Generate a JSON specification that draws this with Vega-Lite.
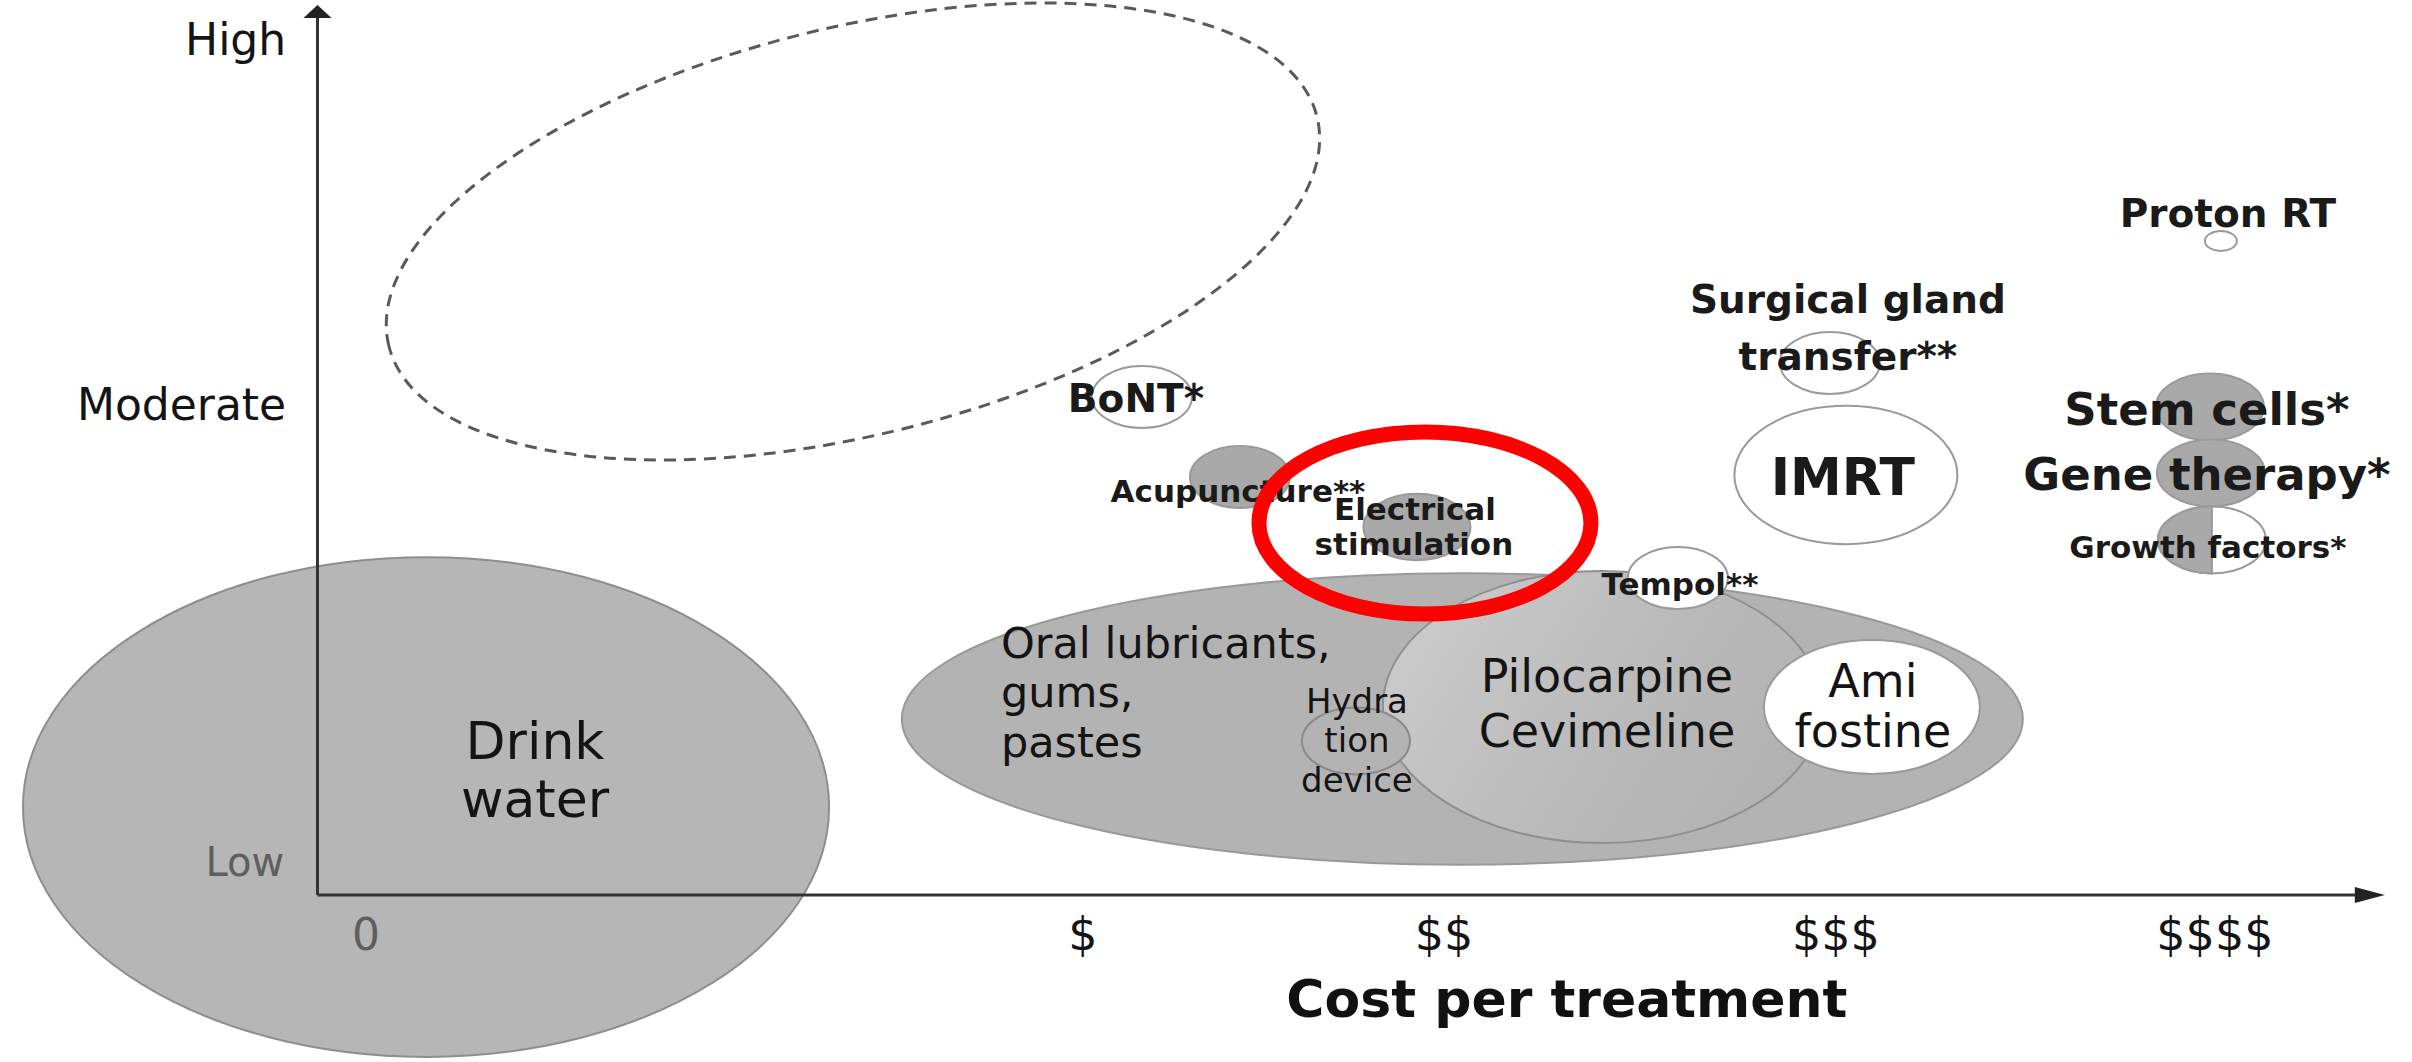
{
  "$schema": "https://vega.github.io/schema/vega-lite/v6.json",
  "width": 2412,
  "height": 1062,
  "autosize": {"type": "none"},
  "padding": 0,
  "background": "white",
  "config": {"view": {"stroke": null}},
  "datasets": {
    "ideal": [{"name": "ideal zone", "c": 0.4105, "e": 7.4134, "w": 2.5238}],
    "water": [{"name": "Drink water", "c": -0.7167, "e": 0.983, "w": 2.128}],
    "lubricants": [{"name": "Oral lubricants, gums, pastes", "c": 2.0193, "e": 1.9665, "w": 2.9593}],
    "sialogogues": [{"name": "Pilocarpine Cevimeline", "c": 2.389, "e": 2.1006, "w": 1.1589}],
    "hydration": [{"name": "Hydration device", "c": 1.7384, "e": 1.7207, "w": 0.2851}],
    "open": [
      {"name": "Amifostine", "c": 3.1006, "e": 2.1006, "w": 0.5702},
      {"name": "Tempol", "c": 2.5884, "e": 3.5419, "w": 0.264},
      {"name": "BoNT", "c": 1.1734, "e": 5.5642, "w": 0.264},
      {"name": "Surgical gland transfer", "c": 2.9897, "e": 5.9441, "w": 0.264},
      {"name": "IMRT", "c": 3.0319, "e": 4.6927, "w": 0.5887},
      {"name": "Proton RT", "c": 4.0219, "e": 7.3073, "w": 0.0845},
      {"name": "Growth factors", "c": 3.9982, "e": 3.9665, "w": 0.2851}
    ],
    "grey": [
      {"name": "Acupuncture", "c": 1.4322, "e": 4.6704, "w": 0.264},
      {"name": "Electrical stimulation", "c": 1.8994, "e": 4.1117, "w": 0.2825},
      {"name": "Stem cells", "c": 3.9929, "e": 5.4525, "w": 0.2851},
      {"name": "Gene therapy", "c": 3.9955, "e": 4.7151, "w": 0.2851}
    ],
    "half": [{"name": "Growth factors", "c": 3.9982, "e": 3.9665, "w": 0.2851}],
    "highlight": [{"name": "Electrical stimulation", "c": 1.9206, "e": 4.1564, "w": 0.8765}],
    "axes": [
      {"c": -1.0032, "e": 0, "c2": -1.0032, "e2": 9.7989},
      {"c": -1.0032, "e": 0, "c2": 4.3783, "e2": 0}
    ],
    "arrowUp": [{"c": -1.0032, "e": 9.8715}],
    "arrowRight": [{"c": 4.4152, "e": 0}],
    "levels": [
      {"label": "High", "c": -1.0858, "e": 9.3855},
      {"label": "Moderate", "c": -1.0858, "e": 5.3073}
    ],
    "low": [{"label": "Low", "c": -1.0911, "e": 0.2123}],
    "zero": [{"label": "0", "c": -0.8751, "e": -0.6145}],
    "costs": [
      {"label": "$", "c": 1.0177, "e": -0.6145},
      {"label": "$$", "c": 1.9707, "e": -0.6145},
      {"label": "$$$", "c": 3.0055, "e": -0.6145},
      {"label": "$$$$", "c": 4.0061, "e": -0.6145}
    ],
    "xtitle": [{"label": "Cost per treatment", "c": 2.2954, "e": -1.3631}],
    "waterLabel": [
      {"label": "Drink", "c": -0.429, "e": 1.5196},
      {"label": "water", "c": -0.429, "e": 0.8715}
    ],
    "lubLabel": [
      {"label": "Oral lubricants,", "c": 0.8012, "e": 2.648},
      {"label": "gums,", "c": 0.8012, "e": 2.1006},
      {"label": "pastes", "c": 0.8012, "e": 1.5419}
    ],
    "bigLabels": [
      {"label": "Pilocarpine", "c": 2.401, "e": 2.2682},
      {"label": "Cevimeline", "c": 2.401, "e": 1.6536},
      {"label": "Ami", "c": 3.1032, "e": 2.2123},
      {"label": "fostine", "c": 3.1032, "e": 1.6536}
    ],
    "hydLabels": [
      {"label": "Hydra", "c": 1.741, "e": 2.0335},
      {"label": "tion", "c": 1.741, "e": 1.5978},
      {"label": "device", "c": 1.741, "e": 1.1508}
    ],
    "smallLabels": [
      {"label": "Tempol**", "c": 2.5937, "e": 3.352},
      {"label": "Acupuncture**", "c": 1.4269, "e": 4.3911},
      {"label": "Electrical", "c": 1.8941, "e": 4.1899},
      {"label": "stimulation", "c": 1.8915, "e": 3.7989},
      {"label": "Growth factors*", "c": 3.9875, "e": 3.7654}
    ],
    "midLabels": [
      {"label": "BoNT*", "c": 1.1576, "e": 5.3966},
      {"label": "Surgical gland", "c": 3.0372, "e": 6.5028},
      {"label": "transfer**", "c": 3.0372, "e": 5.8659},
      {"label": "Proton RT", "c": 4.0404, "e": 7.4637}
    ],
    "largeLabels": [
      {"label": "Stem cells*", "c": 3.985, "e": 5.2514},
      {"label": "Gene therapy*", "c": 3.985, "e": 4.5251}
    ],
    "imrtLabel": [{"label": "IMRT", "c": 3.024, "e": 4.4693}]
  },
  "encoding": {
    "x": {"field": "c", "type": "quantitative", "scale": {"domain": [-1.8414, 4.5265], "nice": false, "zero": false}, "axis": null},
    "y": {"field": "e", "type": "quantitative", "scale": {"domain": [-1.866, 10], "nice": false, "zero": false}, "axis": null}
  },
  "layer": [
    {
      "data": {"name": "ideal"},
      "mark": {"type": "point", "shape": "M-1,0C-1,-0.2353,-0.5523,-0.426,0,-0.426C0.5523,-0.426,1,-0.2353,1,0C1,0.2353,0.5523,0.426,0,0.426C-0.5523,0.426,-1,0.2353,-1,0Z", "filled": false, "stroke": "#5a5a5a", "strokeWidth": 3, "strokeDash": [12, 8], "opacity": 1, "angle": 346.14},
      "encoding": {"size": {"field": "w", "type": "quantitative", "scale": {"type": "pow", "exponent": 2, "domain": [0, 3], "range": [0, 1291405]}, "legend": null}}
    },
    {
      "data": {"name": "water"},
      "mark": {"type": "point", "shape": "M-1,0C-1,-0.3424,-0.5523,-0.62,0,-0.62C0.5523,-0.62,1,-0.3424,1,0C1,0.3424,0.5523,0.62,0,0.62C-0.5523,0.62,-1,0.3424,-1,0Z", "filled": true, "fill": "#b6b6b6", "stroke": "#8e8e8e", "strokeWidth": 2, "opacity": 1},
      "encoding": {"size": {"field": "w", "type": "quantitative", "scale": {"type": "pow", "exponent": 2, "domain": [0, 3], "range": [0, 1291405]}, "legend": null}}
    },
    {
      "data": {"name": "lubricants"},
      "mark": {"type": "point", "shape": "M-1,0C-1,-0.1436,-0.5523,-0.26,0,-0.26C0.5523,-0.26,1,-0.1436,1,0C1,0.1436,0.5523,0.26,0,0.26C-0.5523,0.26,-1,0.1436,-1,0Z", "filled": true, "fill": "#b3b3b3", "stroke": "#999999", "strokeWidth": 2, "opacity": 1},
      "encoding": {"size": {"field": "w", "type": "quantitative", "scale": {"type": "pow", "exponent": 2, "domain": [0, 3], "range": [0, 1291405]}, "legend": null}}
    },
    {
      "data": {"name": "sialogogues"},
      "mark": {"type": "point", "shape": "M-1,0C-1,-0.3424,-0.5523,-0.62,0,-0.62C0.5523,-0.62,1,-0.3424,1,0C1,0.3424,0.5523,0.62,0,0.62C-0.5523,0.62,-1,0.3424,-1,0Z", "filled": true, "fill": {"gradient": "linear", "x1": 0, "y1": 0.3, "x2": 1, "y2": 0.7, "stops": [{"offset": 0, "color": "#cbcbcb"}, {"offset": 0.5, "color": "#bbbbbb"}, {"offset": 1, "color": "#b1b1b1"}]}, "stroke": "#8f8f8f", "strokeWidth": 2, "opacity": 1},
      "encoding": {"size": {"field": "w", "type": "quantitative", "scale": {"type": "pow", "exponent": 2, "domain": [0, 3], "range": [0, 1291405]}, "legend": null}}
    },
    {
      "data": {"name": "hydration"},
      "mark": {"type": "point", "shape": "M-1,0C-1,-0.3424,-0.5523,-0.62,0,-0.62C0.5523,-0.62,1,-0.3424,1,0C1,0.3424,0.5523,0.62,0,0.62C-0.5523,0.62,-1,0.3424,-1,0Z", "filled": true, "fill": "#b3b3b3", "stroke": "#8a8a8a", "strokeWidth": 2, "opacity": 1},
      "encoding": {"size": {"field": "w", "type": "quantitative", "scale": {"type": "pow", "exponent": 2, "domain": [0, 3], "range": [0, 1291405]}, "legend": null}}
    },
    {
      "data": {"name": "open"},
      "mark": {"type": "point", "shape": "M-1,0C-1,-0.3424,-0.5523,-0.62,0,-0.62C0.5523,-0.62,1,-0.3424,1,0C1,0.3424,0.5523,0.62,0,0.62C-0.5523,0.62,-1,0.3424,-1,0Z", "filled": true, "fill": "#ffffff", "stroke": "#9a9a9a", "strokeWidth": 2, "opacity": 1},
      "encoding": {"size": {"field": "w", "type": "quantitative", "scale": {"type": "pow", "exponent": 2, "domain": [0, 3], "range": [0, 1291405]}, "legend": null}}
    },
    {
      "data": {"name": "grey"},
      "mark": {"type": "point", "shape": "M-1,0C-1,-0.3424,-0.5523,-0.62,0,-0.62C0.5523,-0.62,1,-0.3424,1,0C1,0.3424,0.5523,0.62,0,0.62C-0.5523,0.62,-1,0.3424,-1,0Z", "filled": true, "fill": "#a9a9a9", "stroke": "#9a9a9a", "strokeWidth": 2, "opacity": 1},
      "encoding": {"size": {"field": "w", "type": "quantitative", "scale": {"type": "pow", "exponent": 2, "domain": [0, 3], "range": [0, 1291405]}, "legend": null}}
    },
    {
      "data": {"name": "half"},
      "mark": {"type": "point", "shape": "M0,-0.62C-0.5523,-0.62,-1,-0.3424,-1,0C-1,0.3424,-0.5523,0.62,0,0.62Z", "filled": true, "fill": "#a9a9a9", "stroke": "#9a9a9a", "strokeWidth": 2, "opacity": 1},
      "encoding": {"size": {"field": "w", "type": "quantitative", "scale": {"type": "pow", "exponent": 2, "domain": [0, 3], "range": [0, 1291405]}, "legend": null}}
    },
    {
      "data": {"name": "axes"},
      "mark": {"type": "rule", "color": "#333333", "strokeWidth": 3},
      "encoding": {"x2": {"field": "c2"}, "y2": {"field": "e2"}}
    },
    {
      "data": {"name": "arrowUp"},
      "mark": {"type": "point", "shape": "M0,-0.46L1,0.46L-1,0.46Z", "size": 784, "filled": true, "fill": "#222222", "strokeWidth": 0, "opacity": 1}
    },
    {
      "data": {"name": "arrowRight"},
      "mark": {"type": "point", "shape": "M-1,-0.53L1,0L-1,0.53Z", "size": 900, "filled": true, "fill": "#222222", "strokeWidth": 0, "opacity": 1}
    },
    {
      "data": {"name": "levels"},
      "mark": {"type": "text", "font": "DejaVu Sans", "fontSize": 44, "align": "right", "baseline": "alphabetic", "color": "#141414"},
      "encoding": {"text": {"field": "label"}}
    },
    {
      "data": {"name": "low"},
      "mark": {"type": "text", "font": "DejaVu Sans", "fontSize": 40, "align": "right", "baseline": "alphabetic", "color": "#5e5e5e"},
      "encoding": {"text": {"field": "label"}}
    },
    {
      "data": {"name": "zero"},
      "mark": {"type": "text", "font": "DejaVu Sans", "fontSize": 44, "align": "center", "baseline": "alphabetic", "color": "#5e5e5e"},
      "encoding": {"text": {"field": "label"}}
    },
    {
      "data": {"name": "costs"},
      "mark": {"type": "text", "font": "DejaVu Sans", "fontSize": 46, "align": "center", "baseline": "alphabetic", "color": "#141414"},
      "encoding": {"text": {"field": "label"}}
    },
    {
      "data": {"name": "xtitle"},
      "mark": {"type": "text", "font": "DejaVu Sans", "fontSize": 52, "fontWeight": "bold", "align": "center", "baseline": "alphabetic", "color": "#111111"},
      "encoding": {"text": {"field": "label"}}
    },
    {
      "data": {"name": "waterLabel"},
      "mark": {"type": "text", "font": "DejaVu Sans", "fontSize": 52, "align": "center", "baseline": "alphabetic", "color": "#141414"},
      "encoding": {"text": {"field": "label"}}
    },
    {
      "data": {"name": "lubLabel"},
      "mark": {"type": "text", "font": "DejaVu Sans", "fontSize": 43, "align": "left", "baseline": "alphabetic", "color": "#141414"},
      "encoding": {"text": {"field": "label"}}
    },
    {
      "data": {"name": "bigLabels"},
      "mark": {"type": "text", "font": "DejaVu Sans", "fontSize": 46, "align": "center", "baseline": "alphabetic", "color": "#141414"},
      "encoding": {"text": {"field": "label"}}
    },
    {
      "data": {"name": "hydLabels"},
      "mark": {"type": "text", "font": "DejaVu Sans", "fontSize": 34, "align": "center", "baseline": "alphabetic", "color": "#141414"},
      "encoding": {"text": {"field": "label"}}
    },
    {
      "data": {"name": "smallLabels"},
      "mark": {"type": "text", "font": "DejaVu Sans", "fontSize": 31, "fontWeight": "bold", "align": "center", "baseline": "alphabetic", "color": "#1a1a1a"},
      "encoding": {"text": {"field": "label"}}
    },
    {
      "data": {"name": "midLabels"},
      "mark": {"type": "text", "font": "DejaVu Sans", "fontSize": 39, "fontWeight": "bold", "align": "center", "baseline": "alphabetic", "color": "#1a1a1a"},
      "encoding": {"text": {"field": "label"}}
    },
    {
      "data": {"name": "largeLabels"},
      "mark": {"type": "text", "font": "DejaVu Sans", "fontSize": 45, "fontWeight": "bold", "align": "center", "baseline": "alphabetic", "color": "#1a1a1a"},
      "encoding": {"text": {"field": "label"}}
    },
    {
      "data": {"name": "imrtLabel"},
      "mark": {"type": "text", "font": "DejaVu Sans", "fontSize": 52, "fontWeight": "bold", "align": "center", "baseline": "alphabetic", "color": "#1a1a1a"},
      "encoding": {"text": {"field": "label"}}
    },
    {
      "data": {"name": "highlight"},
      "mark": {"type": "point", "shape": "M-1,0C-1,-0.3027,-0.5523,-0.548,0,-0.548C0.5523,-0.548,1,-0.3027,1,0C1,0.3027,0.5523,0.548,0,0.548C-0.5523,0.548,-1,0.3027,-1,0Z", "filled": false, "stroke": "#ff0000", "strokeWidth": 15, "opacity": 1},
      "encoding": {"size": {"field": "w", "type": "quantitative", "scale": {"type": "pow", "exponent": 2, "domain": [0, 3], "range": [0, 1291405]}, "legend": null}}
    }
  ]
}
